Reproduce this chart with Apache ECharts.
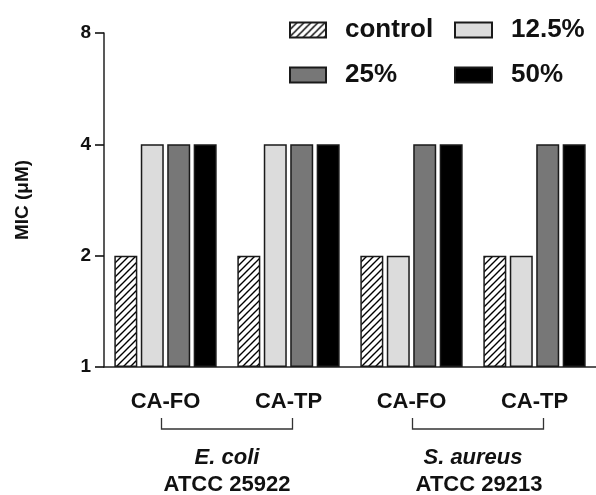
<!DOCTYPE html>
<html>
<head>
<meta charset="utf-8">
<script src="https://cdn.jsdelivr.net/npm/echarts@6/dist/echarts.min.js"></script>
<style>html,body{margin:0;padding:0;background:#fff}#c{width:596px;height:495px}</style>
</head>
<body>
<div id="c"></div>
<script>
// ---- data ----
const categories = ['CA-FO', 'CA-TP', 'CA-FO', 'CA-TP'];
const seriesNames = ['control', '12.5%', '25%', '50%'];
const controlVals = [2, 2, 2, 2];
const p125Vals = [4, 4, 2, 2];
const p25Vals = [4, 4, 4, 4];
const p50Vals = [4, 4, 4, 4];
const yTicks = [1, 2, 4, 8];
const groupNames = ['E. coli', 'S. aureus'];
const groupStrains = ['ATCC 25922', 'ATCC 29213'];

const FONT = '"Liberation Sans", Arial, sans-serif';

// hatch pattern
function hatch() {
  const s = 7;
  const c = document.createElement('canvas');
  c.width = s; c.height = s;
  const g = c.getContext('2d');
  g.fillStyle = '#fff'; g.fillRect(0, 0, s, s);
  g.strokeStyle = '#000'; g.lineWidth = 1.4;
  g.beginPath();
  g.moveTo(-1, s + 1); g.lineTo(s + 1, -1);
  g.moveTo(-1, 1); g.lineTo(1, -1);
  g.moveTo(s - 1, s + 1); g.lineTo(s + 1, s - 1);
  g.stroke();
  return { image: c, repeat: 'repeat' };
}

const fills = [hatch(), '#dcdcdc', '#777777', '#000000'];
const vals = [controlVals, p125Vals, p25Vals, p50Vals];

const chart = echarts.init(document.getElementById('c'), null, { renderer: 'canvas' });

const series = seriesNames.map((n, i) => ({
  name: n,
  type: 'bar',
  data: vals[i],
  barWidth: 23,
  barGap: '15%',
  itemStyle: { color: fills[i], borderColor: '#1a1a1a', borderWidth: 1.5 },
  emphasis: { disabled: true }
}));

const legendText = { fontFamily: FONT, fontWeight: 'bold', fontSize: 26, color: '#111', padding: [0, 0, 0, 14] };

chart.setOption({
  animation: false,
  backgroundColor: '#fff',
  grid: { left: 104, top: 33, width: 500, bottom: 128, containLabel: false },
  legend: [
    { data: ['control', '25%'], icon: 'rect', orient: 'vertical', left: 284, top: 12, itemWidth: 36, itemHeight: 15, itemGap: 19, textStyle: legendText, selectedMode: false },
    { data: ['12.5%', '50%'], icon: 'rect', orient: 'vertical', left: 449, top: 12, itemWidth: 37, itemHeight: 15, itemGap: 19, textStyle: legendText, selectedMode: false }
  ],
  xAxis: {
    type: 'category',
    data: categories,
    axisLine: { lineStyle: { color: '#222', width: 1.5 } },
    axisTick: { alignWithLabel: true, length: 8, lineStyle: { color: '#222', width: 1.5 } },
    axisLabel: { fontFamily: FONT, fontWeight: 'bold', fontSize: 22, color: '#111', margin: 24 }
  },
  yAxis: {
    type: 'log',
    logBase: 2,
    min: yTicks[0],
    max: yTicks[yTicks.length - 1],
    interval: 1,
    name: 'MIC (μM)',
    nameLocation: 'middle',
    nameRotate: 90,
    nameGap: 72,
    nameTextStyle: { fontFamily: FONT, fontWeight: 'bold', fontSize: 19, color: '#111' },
    splitLine: { show: false },
    axisLine: { show: true, lineStyle: { color: '#222', width: 1.5 } },
    axisTick: { show: true, length: 9, lineStyle: { color: '#111', width: 1.6 } },
    axisLabel: { fontFamily: FONT, fontWeight: 'bold', fontSize: 19, color: '#111', margin: 13 }
  },
  series: series
});

// annotations: brackets and group labels anchored to the category axis
const cx = i => chart.convertToPixel({ xAxisIndex: 0 }, i);
const yBr0 = 418, yBr1 = 429;
const brackets = [[cx(0) - 4, cx(1) + 4], [cx(2) + 1, cx(3) + 9]];
const graphics = [];
brackets.forEach((b, k) => {
  graphics.push({
    type: 'polyline', silent: true,
    shape: { points: [[b[0], yBr0], [b[0], yBr1], [b[1], yBr1], [b[1], yBr0]] },
    style: { stroke: '#333', lineWidth: 1.3, fill: null }
  });
  const mid = (cx(2 * k) + cx(2 * k + 1)) / 2;
  graphics.push({
    type: 'text', silent: true, x: mid, y: 458,
    style: { text: groupNames[k], font: 'italic bold 22px ' + FONT, fill: '#111', align: 'center', verticalAlign: 'middle' }
  });
  graphics.push({
    type: 'text', silent: true, x: mid + (k === 0 ? 0 : 6), y: 485,
    style: { text: groupStrains[k], font: 'bold 22px ' + FONT, fill: '#111', align: 'center', verticalAlign: 'middle' }
  });
});
chart.setOption({ graphic: graphics });
</script>
</body>
</html>
